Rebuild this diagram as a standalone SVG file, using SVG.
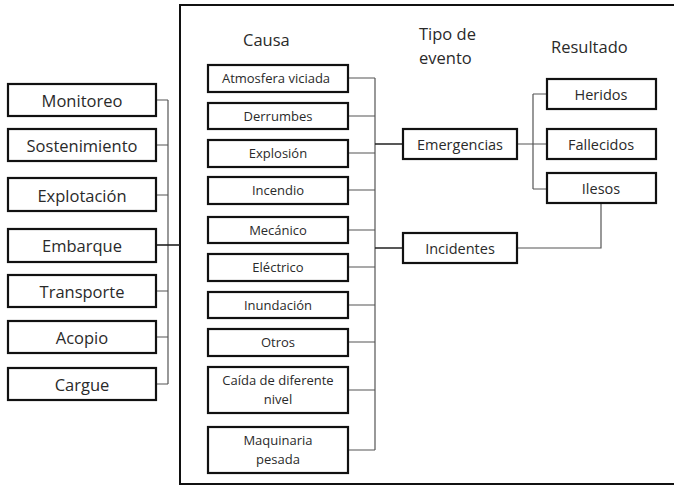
<svg xmlns="http://www.w3.org/2000/svg" width="674" height="486" viewBox="0 0 674 486">
<style>
.b{fill:#fff;stroke:#111;stroke-width:2.2}
.frame{fill:none;stroke:#111;stroke-width:2}
.c{fill:none;stroke:#555;stroke-width:1.2}
.cd{fill:none;stroke:#222;stroke-width:1.6}
text{font-family:"Open Sans","Noto Sans","Liberation Sans",sans-serif;fill:#2a2a2a;text-anchor:middle;dominant-baseline:central}
.l{font-size:16.5px}
.s{font-size:13px}
.m{font-size:14.5px}
.h{font-size:16.5px;text-anchor:start}
</style>
<rect class="frame" x="180" y="5" width="520" height="479"/>
<g id="connectors">
<path class="c" d="M156,100H168M156,145H168M156,195H168M156,291H168M156,337H168M156,384H168M168,100V384"/>
<path class="cd" d="M156,245H180"/>
<path class="c" d="M348,78H375M348,116H375M348,153H375M348,190H375M348,230H375M348,267H375M348,305H375M348,342H375M348,390H375M348,450H375M375,78V450"/>
<path class="cd" d="M375,144H403M375,248H403"/>
<path class="c" d="M517,144H547M533,94H547M533,189H547M533,94V189"/>
<path class="c" d="M517,248H601V203"/>
</g>
<text class="h" x="243" y="39">Causa</text>
<text class="h" x="419" y="33">Tipo de</text>
<text class="h" x="419" y="57">evento</text>
<text class="h" x="551" y="46">Resultado</text>
<g id="monitoreo"><rect class="b" x="8" y="84" width="148" height="32"/><text class="l" x="82" y="100">Monitoreo</text></g>
<g id="sostenimiento"><rect class="b" x="8" y="129" width="148" height="32"/><text class="l" x="82" y="145">Sostenimiento</text></g>
<g id="explotacion"><rect class="b" x="8" y="178" width="148" height="33"/><text class="l" x="82" y="195">Explotación</text></g>
<g id="embarque"><rect class="b" x="8" y="229" width="148" height="33"/><text class="l" x="82" y="245">Embarque</text></g>
<g id="transporte"><rect class="b" x="8" y="275" width="148" height="32"/><text class="l" x="82" y="291">Transporte</text></g>
<g id="acopio"><rect class="b" x="8" y="321" width="148" height="32"/><text class="l" x="82" y="337">Acopio</text></g>
<g id="cargue"><rect class="b" x="8" y="368" width="148" height="32"/><text class="l" x="82" y="384">Cargue</text></g>
<g id="atmosfera"><rect class="b" x="208" y="65" width="140" height="27"/><text class="s" x="276" y="78">Atmosfera viciada</text></g>
<g id="derrumbes"><rect class="b" x="208" y="103" width="140" height="26"/><text class="s" x="278" y="116">Derrumbes</text></g>
<g id="explosion"><rect class="b" x="208" y="140" width="140" height="27"/><text class="s" x="278" y="153">Explosión</text></g>
<g id="incendio"><rect class="b" x="208" y="177" width="140" height="27"/><text class="s" x="278" y="190">Incendio</text></g>
<g id="mecanico"><rect class="b" x="208" y="217" width="140" height="26"/><text class="s" x="278" y="230">Mecánico</text></g>
<g id="electrico"><rect class="b" x="208" y="254" width="140" height="27"/><text class="s" x="278" y="267">Eléctrico</text></g>
<g id="inundacion"><rect class="b" x="208" y="292" width="140" height="26"/><text class="s" x="278" y="305">Inundación</text></g>
<g id="otros"><rect class="b" x="208" y="329" width="140" height="27"/><text class="s" x="278" y="342">Otros</text></g>
<g id="caida"><rect class="b" x="208" y="367" width="140" height="46"/><text class="s" x="278" y="380">Caída de diferente</text><text class="s" x="278" y="399">nivel</text></g>
<g id="maquinaria"><rect class="b" x="208" y="427" width="140" height="46"/><text class="s" x="278" y="440">Maquinaria</text><text class="s" x="278" y="459">pesada</text></g>
<g id="emergencias"><rect class="b" x="403" y="129" width="114" height="30"/><text class="m" x="460" y="144">Emergencias</text></g>
<g id="incidentes"><rect class="b" x="403" y="233" width="114" height="30"/><text class="m" x="460" y="248">Incidentes</text></g>
<g id="heridos"><rect class="b" x="547" y="79" width="109" height="30"/><text class="m" x="601" y="94">Heridos</text></g>
<g id="fallecidos"><rect class="b" x="547" y="129" width="109" height="30"/><text class="m" x="601" y="144">Fallecidos</text></g>
<g id="ilesos"><rect class="b" x="547" y="173" width="109" height="30"/><text class="m" x="601" y="188">Ilesos</text></g>
</svg>
